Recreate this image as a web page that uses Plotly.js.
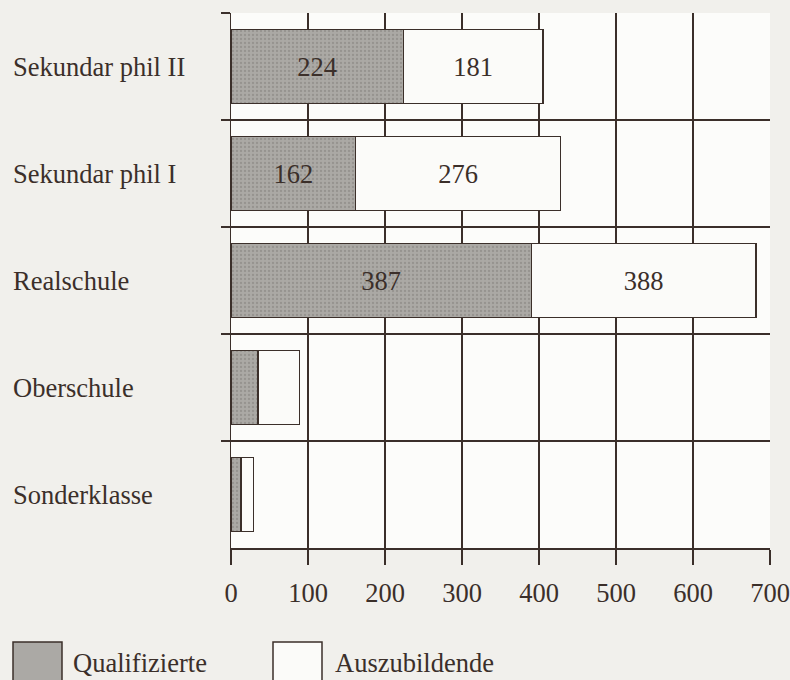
<!DOCTYPE html>
<html>
<head>
<meta charset="utf-8">
<script src="https://cdn.plot.ly/plotly-3.0.1.min.js"></script>
<style>html,body{margin:0;padding:0;background:#f1f0ec;}#chart{width:790px;height:680px;}</style>
</head>
<body>
<div id="chart"></div>
<script>
// Data
const categories = ["Sekundar phil II", "Sekundar phil I", "Realschule", "Oberschule", "Sonderklasse"];
const seriesNames = ["Qualifizierte", "Auszubildende"];
const qualifizierte = [224, 162, 390, 35, 13];
const auszubildende = [181, 266, 292, 54, 16];   // drawn bar lengths as shown
const qualifizierteLabels = ["224", "162", "387", "", ""];
const auszubildendeLabels = ["181", "276", "388", "", ""];
const xTicks = [0, 100, 200, 300, 400, 500, 600, 700];

const ink = "#3b2f2a";
const fontFam = "Liberation Serif, Times New Roman, serif";
const fs = 26.5;

const traces = [
  {
    type: "bar", orientation: "h", name: seriesNames[0],
    y: categories, x: qualifizierte, text: qualifizierteLabels,
    textposition: "inside", insidetextanchor: "middle", textangle: 0,
    constraintext: "none",
    textfont: {family: fontFam, size: fs, color: ink},
    marker: {
      color: "#a9a7a3",
      line: {color: ink, width: 1.5},
      pattern: {shape: ".", fillmode: "replace", bgcolor: "#aba9a5", fgcolor: "#96938f", size: 4, solidity: 0.25}
    },
    hoverinfo: "skip"
  },
  {
    type: "bar", orientation: "h", name: seriesNames[1],
    y: categories, x: auszubildende, text: auszubildendeLabels,
    textposition: "inside", insidetextanchor: "middle", textangle: 0,
    constraintext: "none",
    textfont: {family: fontFam, size: fs, color: ink},
    marker: {color: "#fbfbf9", line: {color: ink, width: 1.5}},
    hoverinfo: "skip"
  }
];

// layout geometry (pixels)
const W = 790, H = 680, L = 231, R = 20, T = 13, B = 132;
const pw = W - L - R, ph = H - T - B;
const px = v => (v - L) / pw;
const py = v => (H - B - v) / ph;

const annotations = categories.map(c => ({
  xref: "paper", yref: "y", x: px(11), y: c, xanchor: "left", yanchor: "middle",
  text: c, showarrow: false, font: {family: fontFam, size: fs, color: ink}
}));
annotations.push(
  {xref: "paper", yref: "paper", x: px(71), y: py(663), xanchor: "left", yanchor: "middle",
   text: seriesNames[0], showarrow: false, font: {family: fontFam, size: fs, color: ink}},
  {xref: "paper", yref: "paper", x: px(333), y: py(663), xanchor: "left", yanchor: "middle",
   text: seriesNames[1], showarrow: false, font: {family: fontFam, size: fs, color: ink}}
);

const shapes = [
  {type: "rect", xref: "paper", yref: "paper", x0: px(13), x1: px(62), y0: py(642), y1: py(700),
   fillcolor: "#aba9a5", line: {color: ink, width: 1.5}},
  {type: "rect", xref: "paper", yref: "paper", x0: px(273), x1: px(322), y0: py(642), y1: py(700),
   fillcolor: "#fbfbf9", line: {color: ink, width: 1.5}}
];

const layout = {
  width: W, height: H,
  margin: {l: L, r: R, t: T, b: B, pad: 0},
  paper_bgcolor: "#f1f0ec",
  plot_bgcolor: "#fcfcfa",
  barmode: "stack",
  bargap: 0.31,
  showlegend: false,
  font: {family: fontFam, size: fs, color: ink},
  xaxis: {
    range: [0, 700], tickvals: xTicks, ticktext: xTicks.map(String),
    ticks: "outside", ticklen: 15, tickwidth: 1.5, tickcolor: ink,
    ticklabelstandoff: 6,
    showgrid: true, gridcolor: ink, gridwidth: 1.5,
    showline: true, linecolor: ink, linewidth: 1.5,
    zeroline: false, mirror: false,
    tickfont: {family: fontFam, size: fs, color: ink}
  },
  yaxis: {
    type: "category", categoryorder: "array", categoryarray: categories,
    autorange: "reversed",
    tickson: "boundaries", ticks: "outside", ticklen: 9, tickwidth: 1.5, tickcolor: ink,
    showgrid: true, gridcolor: ink, gridwidth: 1.5,
    showline: true, linecolor: ink, linewidth: 1.5,
    showticklabels: false, zeroline: false
  },
  annotations: annotations,
  shapes: shapes
};

Plotly.newPlot("chart", traces, layout, {displayModeBar: false, staticPlot: true});
</script>
</body>
</html>
